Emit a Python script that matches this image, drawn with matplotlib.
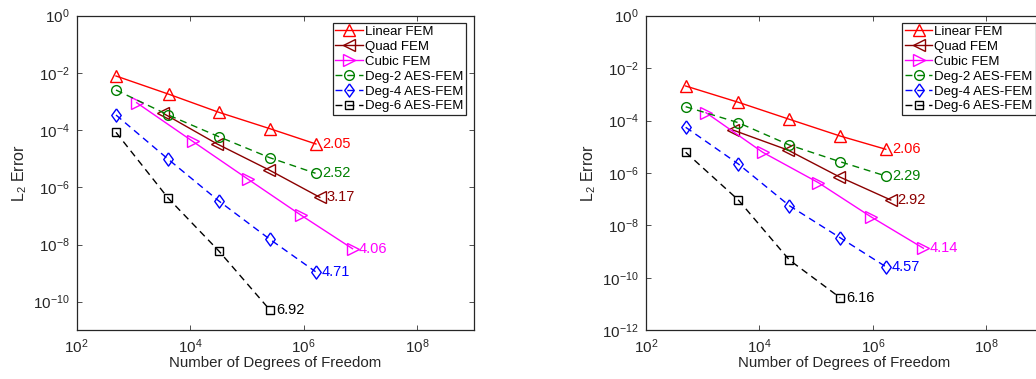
import matplotlib
matplotlib.use("Agg")
import matplotlib.pyplot as plt
from matplotlib.ticker import NullLocator

plt.rcParams['font.family'] = ['Liberation Sans', 'DejaVu Sans']
plt.rcParams['mathtext.fontset'] = 'custom'
plt.rcParams['mathtext.rm'] = 'Liberation Sans'
plt.rcParams['mathtext.it'] = 'Liberation Sans:italic'
plt.rcParams['mathtext.bf'] = 'Liberation Sans:bold'

series_names = ["Linear FEM", "Quad FEM", "Cubic FEM",
                "Deg-2 AES-FEM", "Deg-4 AES-FEM", "Deg-6 AES-FEM"]

# ---- left panel data ----
left_dof_linear = [493, 4227, 32100, 255000, 1652000]
left_err_linear = [7.8e-3, 1.79e-3, 4.19e-4, 1.12e-4, 3.27e-5]
left_dof_quad = [3357, 30060, 247700, 1936000]
left_err_quad = [3.86e-4, 3.27e-5, 4.03e-6, 4.47e-7]
left_dof_cubic = [1140, 11070, 105700, 895000, 7300000]
left_err_cubic = [9.08e-4, 4.06e-5, 1.90e-6, 1.07e-7, 7.13e-9]
left_dof_deg2 = [493, 4120, 32100, 255000, 1626000]
left_err_deg2 = [2.52e-3, 3.37e-4, 5.87e-5, 1.08e-5, 3.09e-6]
left_dof_deg4 = [493, 4120, 32100, 255000, 1626000]
left_err_deg4 = [3.37e-4, 9.53e-6, 3.32e-7, 1.52e-8, 1.12e-9]
left_dof_deg6 = [493, 4120, 32100, 255000]
left_err_deg6 = [8.37e-5, 4.12e-7, 5.93e-9, 5.13e-11]
left_rates = ["2.05", "3.17", "4.06", "2.52", "4.71", "6.92"]

# ---- right panel data ----
right_dof_linear = [501, 4246, 33650, 264000, 1690000]
right_err_linear = [2.08e-3, 4.98e-4, 1.12e-4, 2.58e-5, 8.04e-6]
right_dof_quad = [3380, 31550, 253500, 2070000]
right_err_quad = [4.38e-5, 7.55e-6, 7.24e-7, 9.35e-8]
right_dof_cubic = [1143, 11430, 109400, 918000, 7780000]
right_err_cubic = [2.0e-4, 6.17e-6, 4.28e-7, 2.16e-8, 1.35e-9]
right_dof_deg2 = [501, 4246, 33650, 264000, 1690000]
right_err_deg2 = [3.38e-4, 8.3e-5, 1.17e-5, 2.7e-6, 7.69e-7]
right_dof_deg4 = [501, 4246, 33650, 264000, 1690000]
right_err_deg4 = [5.55e-5, 2.21e-6, 5.68e-8, 3.41e-9, 2.67e-10]
right_dof_deg6 = [501, 4246, 33650, 264000]
right_err_deg6 = [6.17e-6, 9.35e-8, 4.82e-10, 1.76e-11]
right_rates = ["2.06", "2.92", "4.14", "2.29", "4.57", "6.16"]

colors = ["#ff0000", "#8b0000", "#ff00ff", "#008000", "#0000ff", "#000000"]
diamond = [(0, 1), (0.72, 0), (0, -1), (-0.72, 0), (0, 1)]
markers = ["^", "<", ">", "o", diamond, "s"]
msizes = [8.5, 8.5, 8.5, 7, 9.5, 5.5]
linestyles = ["-", "-", "-", "--", "--", "--"]

fig = plt.figure(figsize=(10.36, 3.79), dpi=100)
ax_l = fig.add_axes([76.7 / 1036, 1 - 330.3 / 379, 397 / 1036, 314.6 / 379])
ax_r = fig.add_axes([646 / 1036, 1 - 330.3 / 379, 397 / 1036, 314.6 / 379])

panels = [
    (ax_l,
     [(left_dof_linear, left_err_linear), (left_dof_quad, left_err_quad),
      (left_dof_cubic, left_err_cubic), (left_dof_deg2, left_err_deg2),
      (left_dof_deg4, left_err_deg4), (left_dof_deg6, left_err_deg6)],
     left_rates, 1e-11, [1e0, 1e-2, 1e-4, 1e-6, 1e-8, 1e-10]),
    (ax_r,
     [(right_dof_linear, right_err_linear), (right_dof_quad, right_err_quad),
      (right_dof_cubic, right_err_cubic), (right_dof_deg2, right_err_deg2),
      (right_dof_deg4, right_err_deg4), (right_dof_deg6, right_err_deg6)],
     right_rates, 1e-12, [1e0, 1e-2, 1e-4, 1e-6, 1e-8, 1e-10, 1e-12]),
]

for ax, data, rates, ymin, yticks in panels:
    for i, (xs, ys) in enumerate(data):
        ls = linestyles[i]
        ax.plot(xs, ys, color=colors[i], marker=markers[i], ms=msizes[i],
                mfc='none', mec=colors[i], mew=1.0, lw=1.0,
                linestyle=ls, dashes=(5, 3.5) if ls == "--" else (None, None),
                label=series_names[i])
        ax.annotate(rates[i], xy=(xs[-1], ys[-1]), xytext=(4.5, 0),
                    textcoords='offset points', ha='left', va='center',
                    color=colors[i], fontsize=10.5)
    ax.set_xscale('log')
    ax.set_yscale('log')
    ax.set_xlim(1e2, 1e9)
    ax.set_ylim(ymin, 1e0)
    ax.set_xticks([1e2, 1e4, 1e6, 1e8])
    ax.set_yticks(yticks)
    ax.xaxis.set_minor_locator(NullLocator())
    ax.yaxis.set_minor_locator(NullLocator())
    ax.tick_params(direction='in', top=True, right=True, length=3.5,
                   width=0.6, labelsize=11, color='#333333', pad=5,
                   labelcolor='#262626')
    for sp in ax.spines.values():
        sp.set_linewidth(0.9)
        sp.set_color('#262626')
    ax.set_xlabel("Number of Degrees of Freedom", fontsize=10.8, labelpad=0,
                  color='#262626')
    ax.set_ylabel(r"L$_2$ Error", fontsize=11.5, labelpad=3, color='#262626')
    leg = ax.legend(loc='upper right', fontsize=9.5, frameon=True,
                    fancybox=False, edgecolor='#262626', framealpha=1,
                    handlelength=2.1, handletextpad=0.15, labelspacing=0.2,
                    borderpad=0.22, borderaxespad=0.55)
    leg.get_frame().set_linewidth(0.9)

fig.savefig("out.png", dpi=100)
